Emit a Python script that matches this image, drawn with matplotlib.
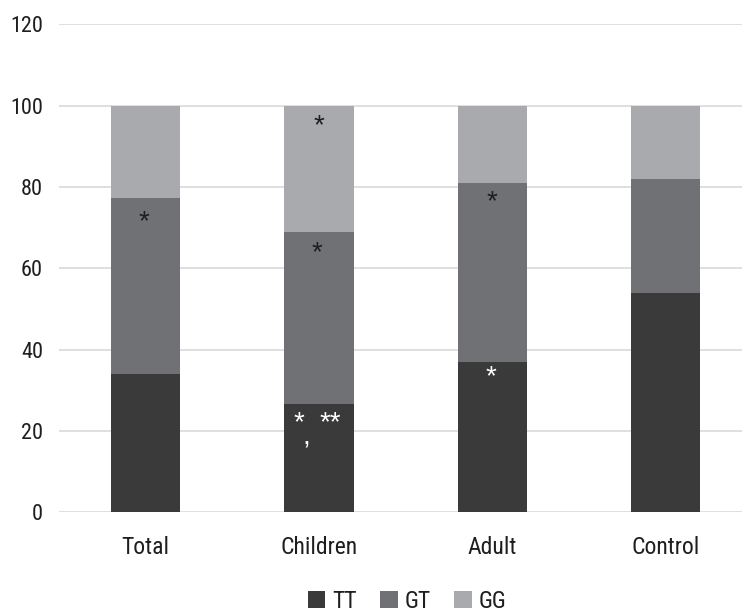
import matplotlib
matplotlib.use("Agg")
import matplotlib.pyplot as plt
from matplotlib import font_manager
import numpy as np

categories = ["Total", "Children", "Adult", "Control"]
series_names = ["TT", "GT", "GG"]
tt = [34.0, 26.6, 37.0, 54.0]
gt = [43.3, 42.4, 44.0, 28.0]
gg = [22.7, 31.0, 19.0, 18.0]
yticks = [0, 20, 40, 60, 80, 100, 120]

# significance marks
marks_txt = ["*", "*", "*", "*", ",", "**", "*", "*"]
marks_cat = [0, 1, 1, 1, 1, 1, 2, 2]
marks_dx = [-0.01, 0.0, -0.01, -0.118, -0.072, 0.066, 0.0, -0.01]
marks_y = [71.3, 95.0, 63.6, 22.0, 18.3, 22.0, 76.3, 33.2]
marks_col = ["#1e1e1e", "#1e1e1e", "#1e1e1e", "white", "white", "white", "#1e1e1e", "white"]

colors = ["#3a3a3a", "#707175", "#a9aaad"]

names = {f.name for f in font_manager.fontManager.ttflist}
narrow = [n for n in ["Liberation Sans Narrow", "Arial Narrow", "Roboto Condensed",
                      "Open Sans Condensed", "Noto Sans Condensed"] if n in names]
fam = narrow[:1] + ['Liberation Sans', 'DejaVu Sans']
plt.rcParams['font.family'] = fam

fig = plt.figure(figsize=(7.42, 6.12), dpi=100)
ax = fig.add_axes([58.9/742, (612-512.3)/612, (752.2-58.9)/742, (512.3-24.3)/612])

x = np.arange(len(categories))
bottom = np.zeros(len(categories))
handles = []
for vals, col, name in zip([tt, gt, gg], colors, series_names):
    b = ax.bar(x, vals, width=0.4, bottom=bottom, color=col, label=name, zorder=3,
               edgecolor="none")
    handles.append(b)
    bottom = bottom + np.array(vals)

for ci, dx, yv, t, c in zip(marks_cat, marks_dx, marks_y, marks_txt, marks_col):
    ax.text(ci + dx, yv, t, ha="center", va="center", color=c, fontsize=20, zorder=5,
            family=['Liberation Sans', 'DejaVu Sans'])

lab_fs = 17 if narrow else 15
tick_fs = 16 if narrow else 14.5
ax.set_xlim(-0.5, 3.5)
ax.set_ylim(0, 120)
ax.set_yticks(yticks)
ax.set_xticks(x)
ax.set_xticklabels(categories, fontsize=lab_fs, color="#1e1e1e")
ax.tick_params(axis="y", length=0, pad=11.5, labelsize=tick_fs, labelcolor="#1e1e1e")
ax.tick_params(axis="x", length=0, pad=17)
ax.grid(axis="y", color="#d9d9d9", linewidth=1.2, zorder=0)
ax.set_axisbelow(True)
for s in ax.spines.values():
    s.set_visible(False)

fig.legend(handles=handles, labels=series_names, loc="center",
           bbox_to_anchor=(407/742, 1-601/612), ncol=3, frameon=False,
           fontsize=lab_fs, handlelength=0.75 * 17 / lab_fs, handleheight=0.75 * 17 / lab_fs,
           handletextpad=0.28, columnspacing=1.0 * 17 / lab_fs, labelcolor="#1e1e1e")

fig.savefig("out.png", dpi=100)
